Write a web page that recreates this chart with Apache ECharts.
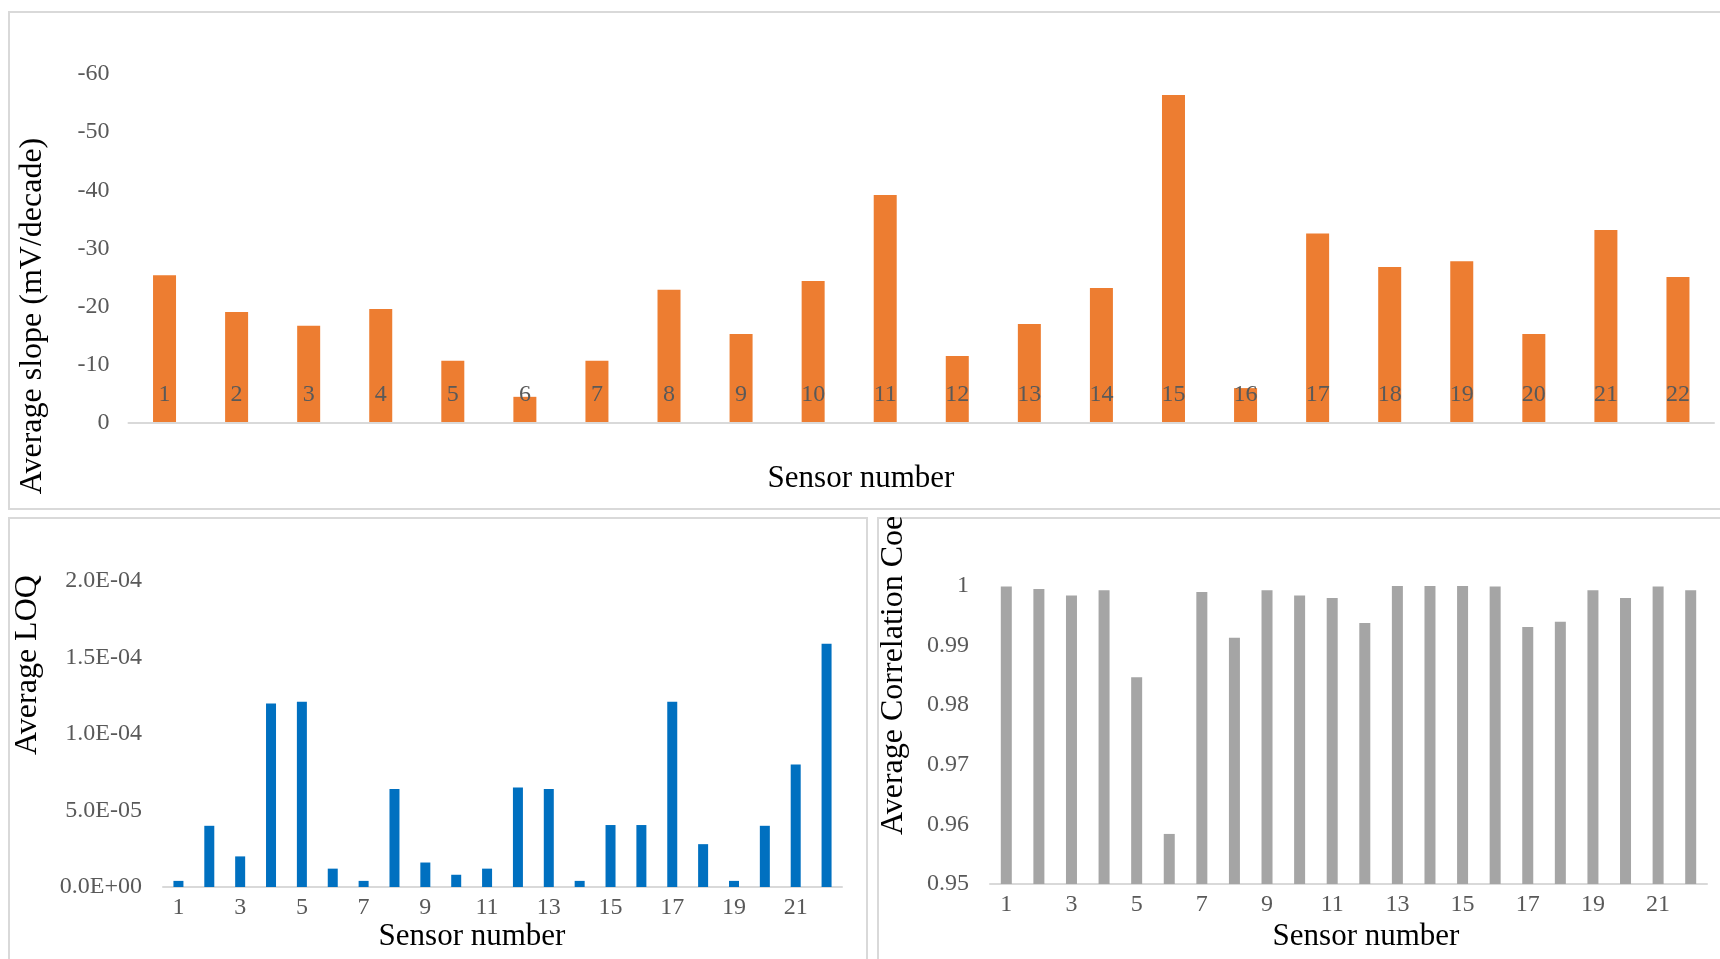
<!DOCTYPE html>
<html>
<head>
<meta charset="utf-8">
<script src="https://cdn.jsdelivr.net/npm/echarts@6/dist/echarts.min.js"></script>
<style>
html,body{margin:0;padding:0;background:#fff;}
#c{width:1720px;height:959px;}
</style>
</head>
<body>
<div id="c"></div>
<script>
// ---- data ----
const sensors = ['1','2','3','4','5','6','7','8','9','10','11','12','13','14','15','16','17','18','19','20','21','22'];
const slopeValues = [-25.4, -19.1, -16.7, -19.6, -10.7, -4.5, -10.7, -22.9, -15.3, -24.4, -39.2, -11.5, -17.0, -23.2, -56.4, -6.0, -32.6, -26.8, -27.8, -15.3, -33.2, -25.1];
const loqValues = [4e-6, 4.0e-5, 2.0e-5, 1.20e-4, 1.21e-4, 1.2e-5, 4e-6, 6.4e-5, 1.6e-5, 8e-6, 1.2e-5, 6.5e-5, 6.4e-5, 4e-6, 4.05e-5, 4.05e-5, 1.21e-4, 2.8e-5, 4e-6, 4.0e-5, 8.0e-5, 1.59e-4];
const corrValues = [0.9999, 0.9995, 0.9984, 0.9993, 0.9847, 0.9584, 0.9990, 0.9913, 0.9993, 0.9984, 0.9980, 0.9938, 1.0000, 1.0000, 1.0000, 0.9999, 0.9931, 0.9940, 0.9993, 0.9980, 0.9999, 0.9993];
const slopeTitle = 'Average slope (mV/decade)';
const loqTitle = 'Average LOQ';
const corrTitle = 'Average Correlation Coefficient';
const xTitle = 'Sensor number';

const FONT = '"Liberation Serif", "Times New Roman", serif';
const GRAY = '#595959';
const LINE = '#D9D9D9';

function sci(v) {
  if (v === 0) return '0.0E+00';
  let s = v.toExponential(1).toUpperCase();
  return s.replace(/E([+-])(\d)$/, 'E$10$2');
}

const chart = echarts.init(document.getElementById('c'));
const axisLabelBase = {color: GRAY, fontFamily: FONT, fontSize: 24};
chart.setOption({
  backgroundColor: '#fff',
  animation: false,
  grid: [
    {left: 128.5, right: 6, top: 74, bottom: 536},
    {left: 163, right: 878, top: 581, bottom: 72},
    {left: 990, right: 13, top: 586, bottom: 75}
  ],
  xAxis: [
    {gridIndex: 0, type: 'category', data: sensors, z: 5,
     axisLine: {lineStyle: {color: LINE, width: 2}}, axisTick: {show: false},
     axisLabel: Object.assign({inside: true, margin: 16, interval: 0}, axisLabelBase)},
    {gridIndex: 1, type: 'category', data: sensors,
     axisLine: {lineStyle: {color: LINE, width: 2}}, axisTick: {show: false},
     axisLabel: Object.assign({margin: 9, interval: 1}, axisLabelBase)},
    {gridIndex: 2, type: 'category', data: sensors,
     axisLine: {lineStyle: {color: LINE, width: 2}}, axisTick: {show: false},
     axisLabel: Object.assign({margin: 9, interval: 1}, axisLabelBase)}
  ],
  yAxis: [
    {gridIndex: 0, type: 'value', min: -60, max: 0, interval: 10, inverse: true,
     splitLine: {show: false}, axisLine: {show: false}, axisTick: {show: false},
     axisLabel: Object.assign({margin: 19, padding: [8, 0, 0, 0]}, axisLabelBase)},
    {gridIndex: 1, type: 'value', min: 0, max: 2e-4, interval: 5e-5,
     splitLine: {show: false}, axisLine: {show: false}, axisTick: {show: false},
     axisLabel: Object.assign({margin: 21, padding: [8, 0, 0, 0], formatter: sci}, axisLabelBase)},
    {gridIndex: 2, type: 'value', min: 0.95, max: 1, interval: 0.01,
     splitLine: {show: false}, axisLine: {show: false}, axisTick: {show: false},
     axisLabel: Object.assign({margin: 21, padding: [8, 0, 0, 0], formatter: v => String(parseFloat(v.toFixed(2)))}, axisLabelBase)}
  ],
  series: [
    {type: 'bar', xAxisIndex: 0, yAxisIndex: 0, data: slopeValues, barWidth: 23,
     itemStyle: {color: '#ED7D31'}, z: 1},
    {type: 'bar', xAxisIndex: 1, yAxisIndex: 1, data: loqValues, barWidth: 10,
     itemStyle: {color: '#0070C0'}},
    {type: 'bar', xAxisIndex: 2, yAxisIndex: 2, data: corrValues, barWidth: 11,
     itemStyle: {color: '#A5A5A5'}}
  ],
  graphic: [
    {type: 'rect', shape: {x: 9, y: 12, width: 1720, height: 497}, style: {fill: null, stroke: LINE, lineWidth: 2}, silent: true, z: -10},
    {type: 'rect', shape: {x: 9, y: 518, width: 858, height: 470}, style: {fill: null, stroke: LINE, lineWidth: 2}, silent: true, z: -10},
    {type: 'rect', shape: {x: 878, y: 518, width: 860, height: 470}, style: {fill: null, stroke: LINE, lineWidth: 2}, silent: true, z: -10},
    {type: 'text', x: 33, y: 316, rotation: Math.PI / 2,
     style: {text: slopeTitle, fontFamily: FONT, fontSize: 32, fill: '#000', align: 'center', verticalAlign: 'middle'}},
    {type: 'text', x: 28, y: 665, rotation: Math.PI / 2,
     style: {text: loqTitle, fontFamily: FONT, fontSize: 32, fill: '#000', align: 'center', verticalAlign: 'middle'}},
    {type: 'text', x: 894, y: 835, rotation: Math.PI / 2,
     style: {text: corrTitle, fontFamily: FONT, fontSize: 32, fill: '#000', align: 'left', verticalAlign: 'middle',
             width: 321, overflow: 'truncate', ellipsis: ''}},
    {type: 'text', x: 861, y: 479,
     style: {text: xTitle, fontFamily: FONT, fontSize: 31, fill: '#000', align: 'center', verticalAlign: 'middle'}},
    {type: 'text', x: 472, y: 937,
     style: {text: xTitle, fontFamily: FONT, fontSize: 31, fill: '#000', align: 'center', verticalAlign: 'middle'}},
    {type: 'text', x: 1366, y: 937,
     style: {text: xTitle, fontFamily: FONT, fontSize: 31, fill: '#000', align: 'center', verticalAlign: 'middle'}}
  ]
});
</script>
</body>
</html>
